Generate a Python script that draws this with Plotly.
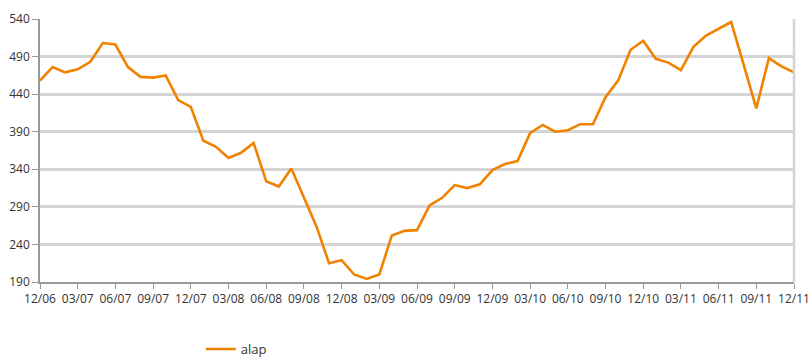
import plotly.graph_objects as go

# Monthly series, Dec 2006 .. Dec 2011
start_year, start_month = 2006, 12
alap = [
    458, 476, 469, 473, 483, 508, 506, 476, 463, 462,
    465, 432, 423, 378, 370, 355, 362, 375, 324, 317,
    341, 302, 264, 215, 219, 200, 194, 200, 252, 258,
    259, 292, 302, 319, 315, 320, 339, 347, 351, 388,
    399, 390, 392, 400, 400, 436, 458, 499, 511, 487,
    482, 472, 503, 518, 527, 536, 479, 421, 488, 477,
    469,
]

months = []
y, m = start_year, start_month
for _ in alap:
    months.append(f"{m:02d}/{y % 100:02d}")
    m += 1
    if m > 12:
        m, y = 1, y + 1

tick_vals = list(range(0, len(alap), 3))
tick_text = [months[i] for i in tick_vals]
y_ticks = [190, 240, 290, 340, 390, 440, 490, 540]

fig = go.Figure()
fig.add_trace(go.Scatter(
    x=list(range(len(alap))),
    y=alap,
    mode="lines",
    name="alap",
    line=dict(color="#F08200", width=2.6),
))

fig.update_layout(
    width=809,
    height=358,
    margin=dict(l=40, r=15, t=19, b=76, autoexpand=False),
    paper_bgcolor="white",
    plot_bgcolor="white",
    font=dict(family="Open Sans, DejaVu Sans, sans-serif", size=12, color="#333333"),
    showlegend=True,
    legend=dict(
        orientation="h",
        x=0.2133,
        xanchor="left",
        y=-0.255,
        yanchor="middle",
        font=dict(size=13, color="#333333"),
        bgcolor="rgba(0,0,0,0)",
    ),
    xaxis=dict(
        range=[0, len(alap) - 1],
        tickmode="array",
        tickvals=tick_vals,
        ticktext=tick_text,
        showgrid=False,
        zeroline=False,
        showline=True,
        linecolor="#999999",
        linewidth=1.5,
        ticks="outside",
        ticklen=5,
        tickwidth=1,
        tickcolor="#999999",
        tickfont=dict(size=12, color="#333333"),
        ticklabeloverflow="allow",
        automargin=False,
    ),
    yaxis=dict(
        range=[190, 540],
        tickmode="array",
        tickvals=y_ticks,
        showgrid=True,
        gridcolor="#D4D4D4",
        gridwidth=2.5,
        zeroline=False,
        showline=True,
        linecolor="#999999",
        linewidth=1.5,
        ticks="outside",
        ticklen=6,
        tickwidth=1,
        tickcolor="#999999",
        tickfont=dict(size=12, color="#333333"),
        automargin=False,
    ),
)

# light frame on the right edge of the plotting area
fig.add_shape(
    type="line", xref="paper", yref="paper",
    x0=1, x1=1, y0=0, y1=1,
    line=dict(color="#D4D4D4", width=2.5),
)

fig.write_html("out.html")
